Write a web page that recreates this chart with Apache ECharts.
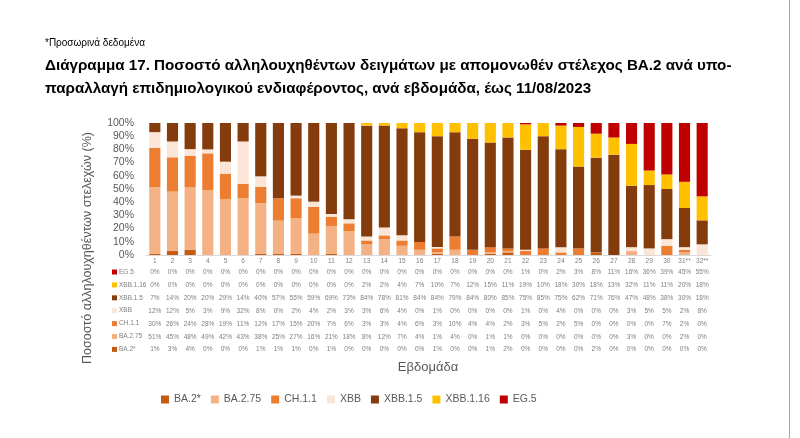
<!DOCTYPE html>
<html><head><meta charset="utf-8">
<script src="https://cdn.jsdelivr.net/npm/echarts@6/dist/echarts.min.js"></script>
<style>html,body{margin:0;padding:0;background:#fff}#c{width:800px;height:438px}</style>
</head><body><div id="c"></div>
<script>
const weeks = ['1','2','3','4','5','6','7','8','9','10','11','12','13','14','15','16','17','18','19','20','21','22','23','24','25','26','27','28','29','30','31**','32**'];
const BA2    = [1,3,4,0,0,0,1,1,1,0,1,0,0,0,0,0,1,0,0,1,2,0,0,0,0,2,0,0,0,0,0,0];
const BA275  = [51,45,48,49,42,43,38,25,27,16,21,18,8,12,7,4,1,4,0,1,1,0,0,0,0,0,0,3,0,0,2,0];
const CH11   = [30,26,24,28,19,11,12,17,15,20,7,6,3,3,4,6,3,10,4,4,2,3,5,2,5,0,0,0,0,7,2,0];
const XBB    = [12,12,5,3,9,32,8,0,2,4,2,3,3,6,4,0,1,0,0,0,0,1,0,4,0,0,0,3,5,5,2,8];
const XBB15  = [7,14,20,20,29,14,40,57,55,59,69,73,84,78,81,84,84,79,84,80,85,75,85,75,62,71,76,47,48,38,30,18];
const XBB116 = [0,0,0,0,0,0,0,0,0,0,0,0,2,2,4,7,10,7,12,15,11,19,10,18,30,18,13,32,11,11,20,18];
const EG5    = [0,0,0,0,0,0,0,0,0,0,0,0,0,0,0,0,0,0,0,0,0,1,0,2,3,8,11,16,36,39,45,55];
const yTicks = ['0%','10%','20%','30%','40%','50%','60%','70%','80%','90%','100%'];

const names  = ['BA.2*','BA.2.75','CH.1.1','XBB','XBB.1.5','XBB.1.16','EG.5'];
const rows   = [BA2,BA275,CH11,XBB,XBB15,XBB116,EG5];
const colors = ['#C55A11','#F4B183','#ED7D31','#FBE5D6','#843C0C','#FFC000','#C00000'];

const totals = weeks.map((w,i)=>rows.reduce((s,r)=>s+r[i],0));
const FONT = "'Liberation Sans Narrow','Liberation Sans',Arial,sans-serif";

// table rows, top to bottom
const tableOrder = [6,5,4,3,2,1,0];
const rowY0 = 272, rowStep = 12.9, axisY = 255, tFont = 6.5;

const xAxes = [{
  type:'category', data:weeks, gridIndex:0, position:'bottom',
  axisLine:{show:true,lineStyle:{color:'#d9d9d9'}}, axisTick:{show:false},
  axisLabel:{fontSize:6.5, color:'#7f7f7f', margin:3, interval:0, fontFamily:FONT}
}];
tableOrder.forEach((si,k)=>{
  const cy = rowY0 + k*rowStep;
  xAxes.push({
    type:'category', data:weeks, gridIndex:0, position:'bottom',
    offset: cy - axisY - 3 - tFont/2,
    axisLine:{show:false}, axisTick:{show:false},
    axisLabel:{fontSize:tFont, color:'#7f7f7f', margin:3, interval:0, fontFamily:FONT,
      formatter:(v,i)=>rows[si][i]+'%'}
  });
});

const series = rows.map((r,si)=>({
  name:names[si], type:'bar', stack:'s', xAxisIndex:0, barWidth:'63%',
  itemStyle:{color:colors[si]},
  data:r.map((v,i)=>v/totals[i]*100)
}));

const graphics = [
  {type:'text', left:45, top:38, style:{text:'*Προσωρινά δεδομένα', font:"10px "+FONT, fill:'#000'}},
  {type:'text', left:45, top:58, style:{text:'Διάγραμμα 17. Ποσοστό αλληλουχηθέντων δειγμάτων με απομονωθέν στέλεχος BA.2 ανά υπο-', font:"bold 15.2px "+FONT, fill:'#000'}},
  {type:'text', left:45, top:81, style:{text:'παραλλαγή επιδημιολογικού ενδιαφέροντος, ανά εβδομάδα, έως 11/08/2023', font:"bold 15.2px "+FONT, fill:'#000'}},
  {type:'text', x:88, y:248, rotation:Math.PI/2, style:{text:'Ποσοστό αλληλουχηθέντων στελεχών (%)', font:"12.5px "+FONT, fill:'#595959', align:'center', verticalAlign:'middle'}},
  {type:'text', x:428, y:367, style:{text:'Εβδομάδα', font:"13px "+FONT, fill:'#595959', align:'center', verticalAlign:'middle'}},
  {type:'line', shape:{x1:789.5,y1:0,x2:789.5,y2:438}, style:{stroke:'#a6a6a6', lineWidth:1}}
];
tableOrder.forEach((si,k)=>{
  const cy = rowY0 + k*rowStep;
  graphics.push({type:'rect', shape:{x:112, y:cy-2.5, width:5, height:5}, style:{fill:colors[si]}});
  graphics.push({type:'text', x:119, y:cy, style:{text:names[si], font:tFont+"px "+FONT, fill:'#7f7f7f', verticalAlign:'middle'}});
});

const chart = echarts.init(document.getElementById('c'), null, {renderer:'canvas'});
chart.setOption({
  backgroundColor:'#fff',
  animation:false,
  grid:{left:146, right:89, top:123, bottom:438-255, containLabel:false},
  xAxis: xAxes,
  yAxis:{type:'value', min:0, max:100, interval:10,
    axisLine:{show:false}, axisTick:{show:false}, splitLine:{show:false},
    axisLabel:{fontSize:10.5, color:'#595959', margin:12, fontFamily:FONT, formatter:(v)=>yTicks[Math.round(v/10)]}},
  legend:{data:names, left:156, top:389, icon:'rect', itemWidth:8, itemHeight:8, itemGap:10,
    textStyle:{fontSize:10.5, color:'#595959', width:62, fontFamily:FONT}},
  series: series,
  graphic: graphics
});
</script></body></html>
